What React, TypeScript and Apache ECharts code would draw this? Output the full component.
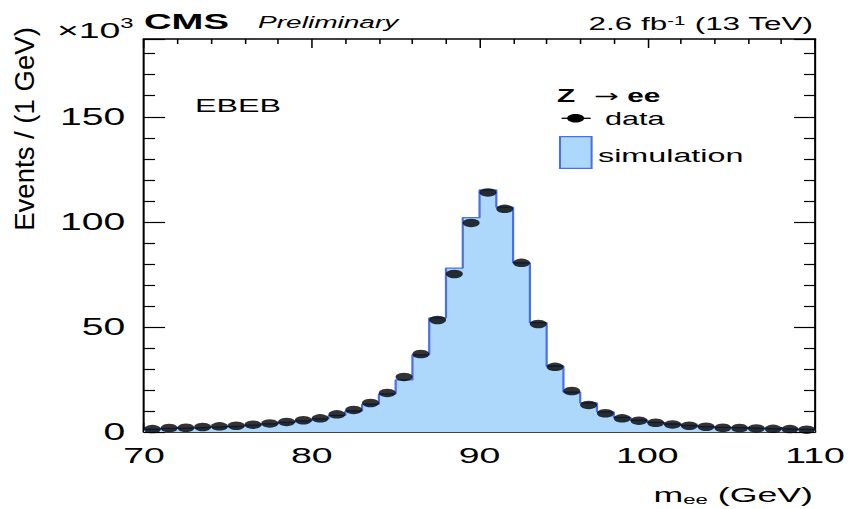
import { useEffect, useRef } from "react";
import * as echarts from "echarts";

// The chart is laid out on a 500px-wide canvas and widened 1.7x horizontally
// to give the typical wide-aspect ROOT look.
const STRETCH = 1.7;
const INNER_W = 850 / STRETCH;
const INNER_H = 509;

const FONT = "'Liberation Sans', Arial, Helvetica, sans-serif";
const FILL_BLUE = "#aed7fc";
const LINE_BLUE = "#4a6fee";

// Binning of the m_ee histogram (GeV)
const binLow = 70;
const binWidth = 1;

// Events per bin, in units of 10^3
const dataCounts = [
  1.4, 1.9, 2.0, 2.4, 2.7, 3.0, 3.5, 4.1, 4.8, 5.6,
  6.5, 8.4, 10.5, 13.8, 18.6, 26.2, 37.1, 53.3, 75.2, 99.5,
  114.0, 106.2, 80.5, 51.4, 31.0, 19.5, 12.9, 8.9, 6.5, 5.4,
  4.4, 3.6, 3.0, 2.5, 2.0, 1.9, 1.7, 1.5, 1.4, 1.1,
];

const simCounts = [
  1.3, 1.7, 1.9, 2.2, 2.5, 2.8, 3.3, 3.9, 4.6, 5.3,
  6.2, 7.9, 10.0, 13.2, 18.1, 24.8, 36.7, 54.3, 78.0, 102.0,
  115.2, 107.0, 80.5, 52.0, 31.4, 19.0, 13.8, 9.6, 7.0, 5.6,
  4.6, 3.8, 3.1, 2.6, 2.2, 1.9, 1.7, 1.5, 1.3, 1.2,
];

const xMin = 70;
const xMax = 110;
const yMax = 187;

export default function App() {
  const ref = useRef<HTMLDivElement>(null);

  useEffect(() => {
    if (!ref.current) return;
    const chart = echarts.init(ref.current, null, { renderer: "svg" });

    // histogram outline: one point per lower bin edge plus the closing edge
    const simStep: number[][] = simCounts.map((v, i) => [binLow + i * binWidth, v]);
    simStep.push([binLow + simCounts.length * binWidth, simCounts[simCounts.length - 1]]);

    const dataPoints = dataCounts.map((v, i) => [binLow + (i + 0.5) * binWidth, v]);

    const axisLineX = { show: true, onZero: false, lineStyle: { color: "#000", width: 1.6 } };
    const axisLineY = { show: true, onZero: false, lineStyle: { color: "#000", width: 1.2 } };

    const xCommon = {
      type: "value" as const,
      min: xMin,
      max: xMax,
      interval: 10,
      axisLine: axisLineX,
      axisTick: { show: true, inside: true, length: 9, lineStyle: { color: "#000", width: 0.9 } },
      minorTick: { show: true, splitNumber: 5, length: 5, lineStyle: { color: "#000", width: 0.9 } },
      splitLine: { show: false },
      minorSplitLine: { show: false },
    };

    const yCommon = {
      type: "value" as const,
      min: 0,
      max: yMax,
      interval: 50,
      axisLine: axisLineY,
      axisTick: { show: true, inside: true, length: 12.4, lineStyle: { color: "#000", width: 1.2 } },
      minorTick: { show: true, splitNumber: 5, length: 6.5, lineStyle: { color: "#000", width: 1.2 } },
      splitLine: { show: false },
      minorSplitLine: { show: false },
    };

    const option: echarts.EChartsOption = {
      animation: false,
      backgroundColor: "#fff",
      grid: { left: 84.7, right: INNER_W - 480, top: 39, bottom: INNER_H - 432, containLabel: false },
      xAxis: [
        {
          ...xCommon,
          position: "bottom",
          axisLabel: { margin: 12, fontSize: 22, color: "#000", fontFamily: FONT },
        },
        {
          ...xCommon,
          position: "top",
          axisLabel: { show: false },
        },
      ],
      yAxis: [
        {
          ...yCommon,
          position: "left",
          axisLabel: {
            margin: 11,
            fontSize: 23,
            color: "#000",
            fontFamily: FONT,
            showMaxLabel: false,
            formatter: (v: number) => (v % 50 === 0 ? String(v) : ""),
          },
        },
        {
          ...yCommon,
          position: "right",
          axisLabel: { show: false },
        },
      ],
      series: [
        {
          name: "simulation",
          type: "line",
          xAxisIndex: 0,
          yAxisIndex: 0,
          data: simStep,
          step: "end",
          symbol: "none",
          showSymbol: false,
          lineStyle: { color: LINE_BLUE, width: 1.3 },
          areaStyle: { color: FILL_BLUE, opacity: 1 },
          z: 2,
        },
        {
          name: "data",
          type: "scatter",
          xAxisIndex: 0,
          yAxisIndex: 0,
          data: dataPoints,
          symbol: "circle",
          symbolSize: [10, 8.5],
          itemStyle: { color: "#000" },
          z: 3,
        },
      ],
      graphic: [
        {
          type: "text",
          x: 84.7,
          y: 21.5,
          style: { text: "CMS", fontSize: 22.5, fontWeight: "bold", fontFamily: FONT, fill: "#000", align: "left", verticalAlign: "middle" },
        },
        {
          type: "text",
          x: 151.8,
          y: 22.5,
          style: { text: "Preliminary", fontSize: 16.5, fontStyle: "italic", fontFamily: FONT, fill: "#000", align: "left", verticalAlign: "middle" },
        },
        {
          type: "text",
          x: 33.5,
          y: 30,
          style: {
            text: "{m|×10}{s|3}",
            fill: "#000",
            align: "left",
            verticalAlign: "middle",
            rich: {
              m: { fontSize: 22, fontFamily: FONT, lineHeight: 27.8, fill: "#000" },
              s: { fontSize: 14, fontFamily: FONT, lineHeight: 14, verticalAlign: "top", fill: "#000" },
            },
          },
        },
        {
          type: "text",
          x: 478.2,
          y: 23.3,
          style: {
            text: "{m|2.6 fb}{s|-1}{m| (13 TeV)}",
            fill: "#000",
            align: "right",
            verticalAlign: "middle",
            rich: {
              m: { fontSize: 18.5, fontFamily: FONT, lineHeight: 16.7, fill: "#000" },
              s: { fontSize: 12, fontFamily: FONT, lineHeight: 12, verticalAlign: "top", fill: "#000" },
            },
          },
        },
        {
          type: "text",
          x: 114.7,
          y: 105.5,
          style: { text: "EBEB", fontSize: 19, fontFamily: FONT, fill: "#000", align: "left", verticalAlign: "middle" },
        },
        // legend
        {
          type: "text",
          x: 327.6,
          y: 96,
          style: {
            text: "{b|Z}{n|  →}{b| ee}",
            fill: "#000",
            align: "left",
            verticalAlign: "middle",
            rich: {
              b: { fontSize: 17.5, fontWeight: "bold", fontFamily: FONT, fill: "#000" },
              n: { fontSize: 17.5, fontFamily: "'DejaVu Sans', sans-serif", fill: "#000" },
            },
          },
        },
        {
          type: "line",
          shape: { x1: 330.4, y1: 118.3, x2: 347.5, y2: 118.3 },
          style: { stroke: "#000", lineWidth: 1.3 },
        },
        {
          type: "ellipse",
          shape: { cx: 338.6, cy: 118.3, rx: 5, ry: 4.25 },
          style: { fill: "#000" },
        },
        {
          type: "text",
          x: 355.9,
          y: 118.3,
          style: { text: "data", fontSize: 18, fontFamily: FONT, fill: "#000", align: "left", verticalAlign: "middle" },
        },
        {
          type: "rect",
          shape: { x: 329.4, y: 136.7, width: 18.6, height: 31.6 },
          style: { fill: FILL_BLUE, stroke: LINE_BLUE, lineWidth: 1.2 },
        },
        {
          type: "text",
          x: 351.8,
          y: 156,
          style: { text: "simulation", fontSize: 19, fontFamily: FONT, fill: "#000", align: "left", verticalAlign: "middle" },
        },
        // axis titles
        {
          type: "text",
          x: 478.2,
          y: 494,
          style: {
            text: "{m|m}{s|ee}{m| (GeV)}",
            fill: "#000",
            align: "right",
            verticalAlign: "middle",
            rich: {
              m: { fontSize: 21, fontFamily: FONT, lineHeight: 24, fill: "#000" },
              s: { fontSize: 13, fontFamily: FONT, lineHeight: 13, verticalAlign: "bottom", fill: "#000" },
            },
          },
        },
        {
          type: "text",
          x: 14.1,
          y: 129,
          rotation: Math.PI / 2,
          scaleX: 1.67,
          style: { text: "Events / (1 GeV)", fontSize: 16.5, fontFamily: FONT, fill: "#000", align: "center", verticalAlign: "middle" },
        },
      ],
    };

    chart.setOption(option);
    return () => chart.dispose();
  }, []);

  return (
    <div style={{ position: "fixed", left: 0, top: 0, width: 850, height: 509, overflow: "hidden", background: "#fff" }}>
      <div
        ref={ref}
        style={{ width: INNER_W, height: INNER_H, transform: `scaleX(${STRETCH})`, transformOrigin: "0 0" }}
      />
    </div>
  );
}
